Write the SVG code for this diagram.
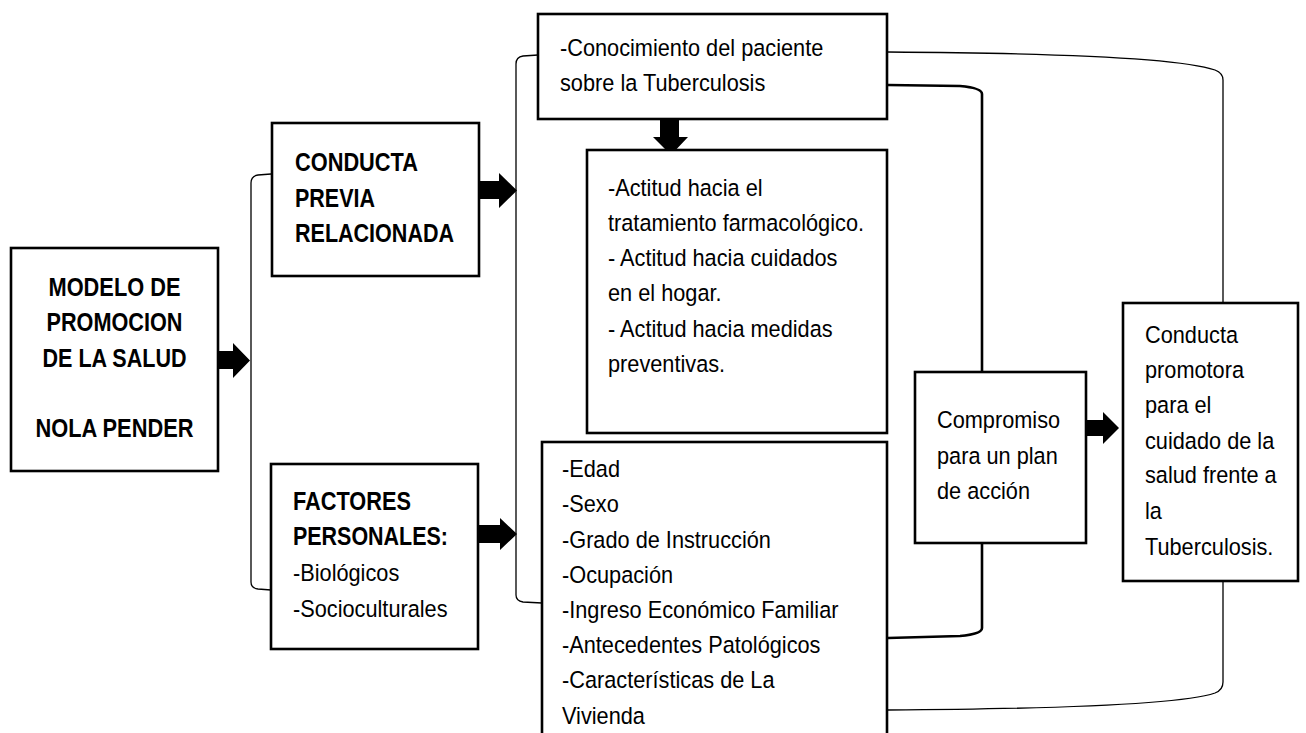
<svg xmlns="http://www.w3.org/2000/svg" width="1306" height="733" viewBox="0 0 1306 733">
<style>
.box{fill:#fff;stroke:#000;stroke-width:2.6}
.t{font-family:"Liberation Sans",Arial,sans-serif;font-size:23.5px;fill:#000;transform-box:fill-box;transform-origin:left center;transform:scaleX(0.925)}
.b{font-family:"Liberation Sans Narrow","Liberation Sans",Arial,sans-serif;font-size:26px;font-weight:bold;fill:#000}
.thin{fill:none;stroke:#000;stroke-width:1.3}
.thick{fill:none;stroke:#000;stroke-width:2.6}
.arr{fill:#000;stroke:none}
</style>
<rect width="1306" height="733" fill="#fff"/>
<g id="connectors">
<path class="thin" d="M271,174 L258,175 Q251,176 251,183 L251,582 Q251,588 258,589 L271,590"/>
<path class="thin" d="M538,55 L523,56 Q516,57 516,64 L516,595 Q516,601 523,602 L542,603"/>
<path class="thin" d="M888,52 C1050,53 1180,58 1215,70 Q1223,73 1223,80 L1223,303"/>
<path class="thin" d="M1223,581 L1223,682 Q1223,690 1215,693 C1180,705 1050,709 888,710"/>
<path class="thick" d="M888,85 L960,86 Q982,88 982,94 L982,372"/>
<path class="thick" d="M982,543 L982,628 Q982,634 960,636 L888,638"/>
<polygon class="arr" points="218,351 233,351 233,343 250,360.5 233,378 233,369 218,369"/>
<polygon class="arr" points="479,181 499,181 499,173 517,190.5 499,208 499,199 479,199"/>
<polygon class="arr" points="478,525 500,525 500,518 517,534 500,550 500,543 478,543"/>
<polygon class="arr" points="660,119 679,119 679,137 688,137 671,155 653,137 660,137"/>
<polygon class="arr" points="1086,420 1103,420 1103,412 1119,428 1103,444 1103,436 1086,436"/>
</g>
<g id="modelo">
<rect class="box" x="11" y="248" width="207" height="223"/>
<text class="b" text-anchor="middle" x="114.5" y="296" textLength="132" lengthAdjust="spacingAndGlyphs">MODELO DE</text>
<text class="b" text-anchor="middle" x="114.5" y="331" textLength="136" lengthAdjust="spacingAndGlyphs">PROMOCION</text>
<text class="b" text-anchor="middle" x="114.5" y="367" textLength="144" lengthAdjust="spacingAndGlyphs">DE LA SALUD</text>
<text class="b" text-anchor="middle" x="114.5" y="437" textLength="158" lengthAdjust="spacingAndGlyphs">NOLA PENDER</text>
</g>
<g id="conducta-previa">
<rect class="box" x="272" y="123" width="207" height="153"/>
<text class="b" x="295" y="171" textLength="123" lengthAdjust="spacingAndGlyphs">CONDUCTA</text>
<text class="b" x="295" y="207" textLength="80" lengthAdjust="spacingAndGlyphs">PREVIA</text>
<text class="b" x="295" y="242" textLength="159" lengthAdjust="spacingAndGlyphs">RELACIONADA</text>
</g>
<g id="factores">
<rect class="box" x="271" y="464" width="207" height="185"/>
<text class="b" x="293" y="510" textLength="118" lengthAdjust="spacingAndGlyphs">FACTORES</text>
<text class="b" x="293" y="545" textLength="155" lengthAdjust="spacingAndGlyphs">PERSONALES:</text>
<text class="t" x="293" y="581">-Biológicos</text>
<text class="t" x="293" y="617">-Socioculturales</text>
</g>
<g id="conocimiento">
<rect class="box" x="538" y="14" width="349" height="105"/>
<text class="t" x="560" y="56">-Conocimiento del paciente</text>
<text class="t" x="560" y="91">sobre la Tuberculosis</text>
</g>
<g id="actitud">
<rect class="box" x="587" y="150" width="300" height="283"/>
<text class="t" x="608" y="196">-Actitud hacia el</text>
<text class="t" x="608" y="231">tratamiento farmacológico.</text>
<text class="t" x="608" y="266">- Actitud hacia cuidados</text>
<text class="t" x="608" y="301">en el hogar.</text>
<text class="t" x="608" y="337">- Actitud hacia medidas</text>
<text class="t" x="608" y="372">preventivas.</text>
</g>
<g id="factores-lista">
<rect class="box" x="542" y="442" width="345" height="300"/>
<text class="t" x="562" y="477">-Edad</text>
<text class="t" x="562" y="512">-Sexo</text>
<text class="t" x="562" y="548">-Grado de Instrucción</text>
<text class="t" x="562" y="583">-Ocupación</text>
<text class="t" x="562" y="618">-Ingreso Económico Familiar</text>
<text class="t" x="562" y="653">-Antecedentes Patológicos</text>
<text class="t" x="562" y="688">-Características de La</text>
<text class="t" x="562" y="724">Vivienda</text>
</g>
<g id="compromiso">
<rect class="box" x="915" y="372" width="171" height="171"/>
<text class="t" x="937" y="428">Compromiso</text>
<text class="t" x="937" y="464">para un plan</text>
<text class="t" x="937" y="499">de acción</text>
</g>
<g id="conducta-promotora">
<rect class="box" x="1123" y="303" width="175" height="278"/>
<text class="t" x="1145" y="343">Conducta</text>
<text class="t" x="1145" y="378">promotora</text>
<text class="t" x="1145" y="413">para el</text>
<text class="t" x="1145" y="449">cuidado de la</text>
<text class="t" x="1145" y="483">salud frente a</text>
<text class="t" x="1145" y="519">la</text>
<text class="t" x="1145" y="555">Tuberculosis.</text>
</g>
</svg>
